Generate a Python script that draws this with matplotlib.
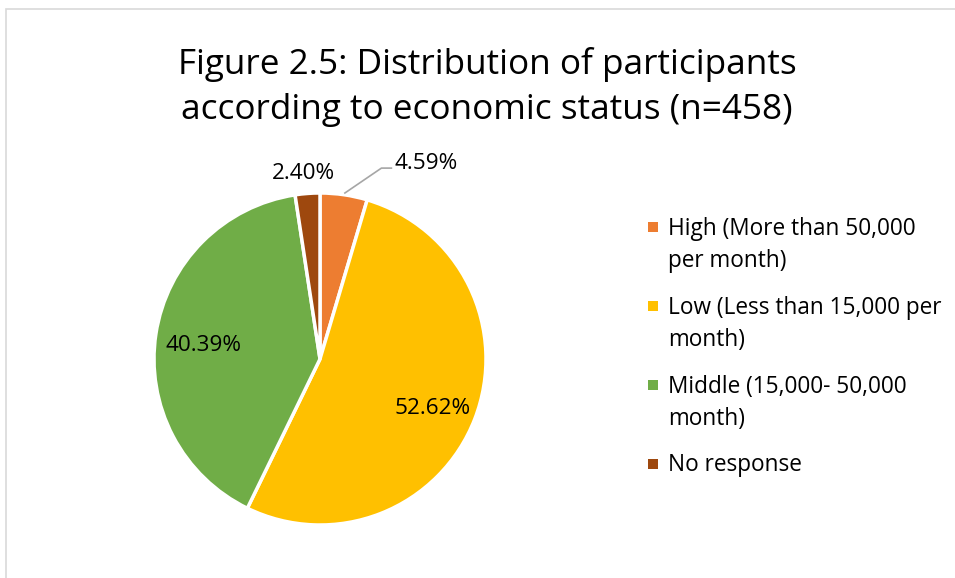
import matplotlib

matplotlib.use("Agg")
import matplotlib.pyplot as plt
from matplotlib.lines import Line2D
from matplotlib.patches import Rectangle

categories = [
    "High (More than 50,000\nper month)",
    "Low (Less than 15,000 per\nmonth)",
    "Middle (15,000- 50,000\nmonth)",
    "No response",
]
shares = [4.59, 52.62, 40.39, 2.40]
colors = ["#ED7D31", "#FFC000", "#70AD47", "#9E480E"]
title = "Figure 2.5: Distribution of participants\naccording to economic status (n=458)"

W, H = 955, 578
plt.rcParams["font.family"] = ["Open Sans", "DejaVu Sans"]

fig = plt.figure(figsize=(W / 100, H / 100), dpi=100)

# chart frame
fig.patches.append(
    Rectangle((6 / W, -0.05), 1.1, 1 - 9 / H + 0.05, transform=fig.transFigure,
              fill=False, edgecolor="#D9D9D9", linewidth=1.2)
)

fig.text(487 / W, 1 - 87 / H, title, ha="center", va="center", fontsize=25.3,
         linespacing=1.45, color="#000000")

# pie placed by its bounding box in pixels
cx, cy, r = 320, 359, 166
ax = fig.add_axes([(cx - r) / W, (H - cy - r) / H, 2 * r / W, 2 * r / H])
wedges, _ = ax.pie(shares, colors=colors, startangle=90, counterclock=False,
                   radius=1, wedgeprops=dict(edgecolor="white", linewidth=2.5))
ax.set_xlim(-1, 1)
ax.set_ylim(-1, 1)
ax.axis("off")

label_pos = [(0.64, 1.18), (0.68, -0.30), (-0.70, 0.08), (-0.10, 1.12)]
for value, (x, y) in zip(shares, label_pos):
    ax.text(x, y, f"{value:.2f}%", ha="center", va="center", fontsize=16.2,
            color="#000000", clip_on=False)

# leader line for the small High slice
ax.add_line(Line2D([0.15, 0.37, 0.43], [1.0, 1.15, 1.15], color="#A6A6A6",
                   linewidth=1.2, clip_on=False))

# legend: square key aligned with the first line of each wrapped label
line_px, gap_px, sq = 33, 13, 10
baseline = 234
for label, color in zip(categories, colors):
    n_lines = label.count("\n") + 1
    fig.patches.append(
        Rectangle((648 / W, 1 - (baseline - 2) / H), sq / W, sq / H,
                  transform=fig.transFigure, facecolor=color, edgecolor="none")
    )
    # va="baseline" pins the last line of a multi-line text
    last_baseline = baseline + line_px * (n_lines - 1)
    fig.text(668 / W, 1 - last_baseline / H, label, ha="left", va="baseline",
             fontsize=16.3, linespacing=1.45, color="#000000")
    baseline += line_px * n_lines + gap_px

fig.savefig("out.png", dpi=100)
